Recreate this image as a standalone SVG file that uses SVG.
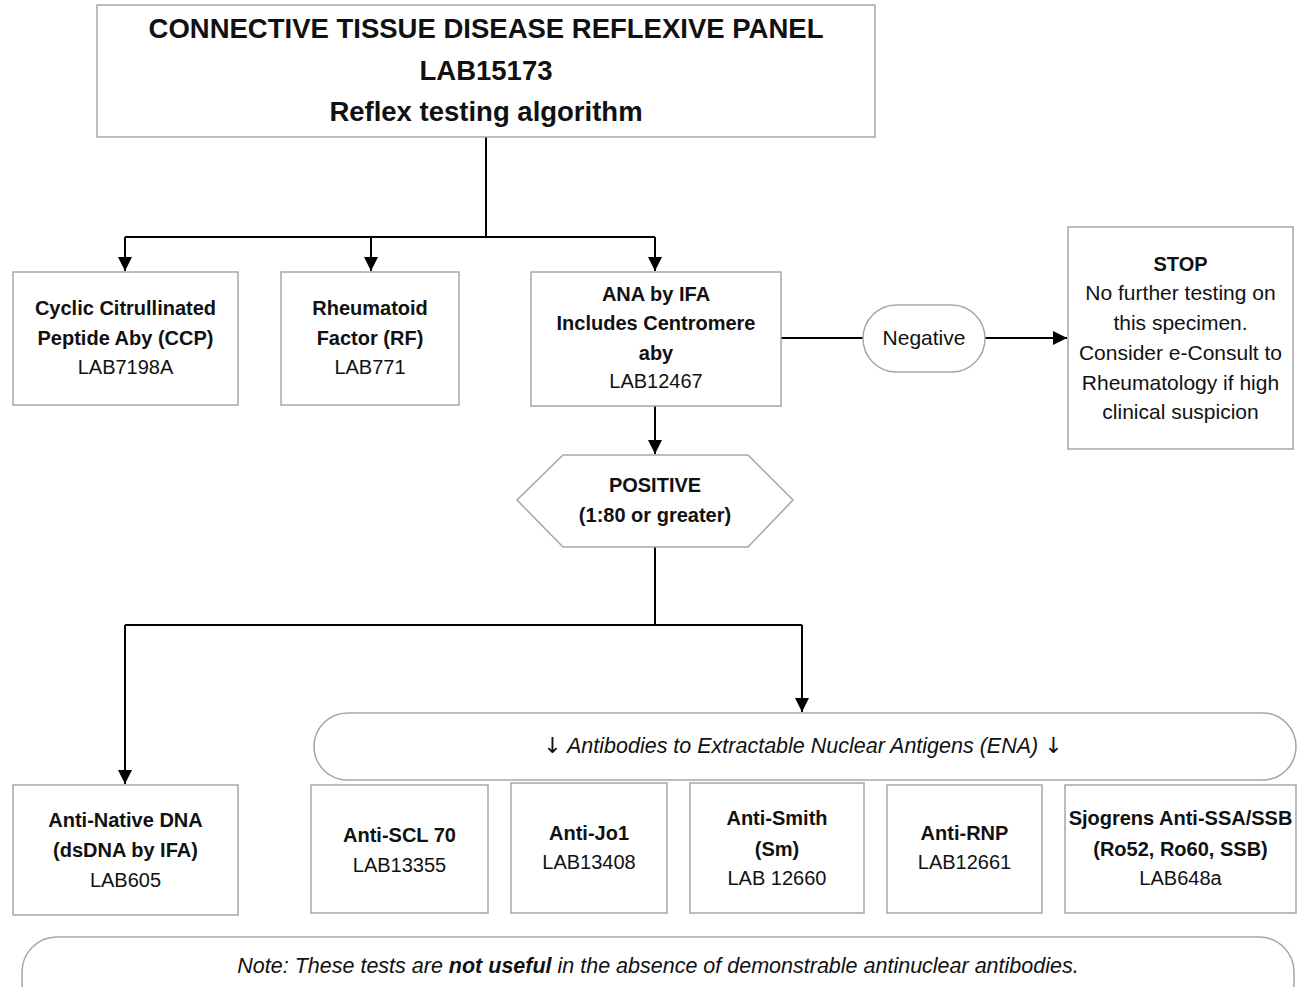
<svg xmlns="http://www.w3.org/2000/svg" width="1316" height="987" viewBox="0 0 1316 987">
<style>
.box{fill:#fff;stroke:#a6a6a6;stroke-width:1.5}
.con{fill:none;stroke:#000;stroke-width:2}
text{font-family:"Liberation Sans",Arial,sans-serif;fill:#111;text-anchor:middle}
.t{font-size:27.5px;font-weight:bold}
.b{font-size:20px;font-weight:bold}
.r{font-size:20px}
.s{font-size:21px}
.i{font-size:21.5px;font-style:italic}
.ar{font-family:"DejaVu Sans",sans-serif;font-style:normal;font-size:22px;fill:#111}
</style>
<defs>
<marker id="arr" markerUnits="userSpaceOnUse" markerWidth="14" markerHeight="14" refX="14" refY="7" orient="auto">
<path d="M0,0 L14,7 L0,14 z" fill="#000"/>
</marker>
</defs>
<rect width="1316" height="987" fill="#fff"/>
<g id="connectors">
<path class="con" d="M486,137 V237"/>
<path class="con" d="M125,237 H655"/>
<path class="con" d="M125,237 V271" marker-end="url(#arr)"/>
<path class="con" d="M371,237 V271" marker-end="url(#arr)"/>
<path class="con" d="M655,237 V271" marker-end="url(#arr)"/>
<path class="con" d="M781,338 H863"/>
<path class="con" d="M985,338 H1067" marker-end="url(#arr)"/>
<path class="con" d="M655,406 V454" marker-end="url(#arr)"/>
<path class="con" d="M655,547 V625"/>
<path class="con" d="M125,625 H802"/>
<path class="con" d="M125,625 V784" marker-end="url(#arr)"/>
<path class="con" d="M802,625 V712" marker-end="url(#arr)"/>
</g>
<g id="title">
<rect class="box" x="97" y="5" width="778" height="132"/>
<text class="t" x="486" y="38">CONNECTIVE TISSUE DISEASE REFLEXIVE PANEL</text>
<text class="t" x="486" y="80">LAB15173</text>
<text class="t" x="486" y="121">Reflex testing algorithm</text>
</g>
<g id="ccp">
<rect class="box" x="13" y="272" width="225" height="133"/>
<text class="b" x="125.5" y="315">Cyclic Citrullinated</text>
<text class="b" x="125.5" y="345">Peptide Aby (CCP)</text>
<text class="r" x="125.5" y="374">LAB7198A</text>
</g>
<g id="rf">
<rect class="box" x="281" y="272" width="178" height="133"/>
<text class="b" x="370" y="315">Rheumatoid</text>
<text class="b" x="370" y="345">Factor (RF)</text>
<text class="r" x="370" y="374">LAB771</text>
</g>
<g id="ana">
<rect class="box" x="531" y="272" width="250" height="134"/>
<text class="b" x="656" y="301">ANA by IFA</text>
<text class="b" x="656" y="330">Includes Centromere</text>
<text class="b" x="656" y="360">aby</text>
<text class="r" x="656" y="388">LAB12467</text>
</g>
<g id="negative">
<rect class="box" x="863" y="305" width="122" height="67" rx="33.5"/>
<text class="s" x="924" y="345">Negative</text>
</g>
<g id="stop">
<rect class="box" x="1068" y="227" width="225" height="222"/>
<text class="b" x="1180.5" y="271">STOP</text>
<text class="s" x="1180.5" y="300">No further testing on</text>
<text class="s" x="1180.5" y="330">this specimen.</text>
<text class="s" x="1180.5" y="360">Consider e-Consult to</text>
<text class="s" x="1180.5" y="390">Rheumatology if high</text>
<text class="s" x="1180.5" y="419">clinical suspicion</text>
</g>
<g id="positive">
<polygon class="box" points="563,455 748,455 793,500 748,547 563,547 517,500"/>
<text class="b" x="655" y="492">POSITIVE</text>
<text class="b" x="655" y="522">(1:80 or greater)</text>
</g>
<g id="ena">
<rect class="box" x="314" y="713" width="982" height="67" rx="33.5"/>
<text class="i" x="803" y="753"><tspan class="ar">↓</tspan> Antibodies to Extractable Nuclear Antigens (ENA) <tspan class="ar">↓</tspan></text>
</g>
<g id="dsdna">
<rect class="box" x="13" y="785" width="225" height="130"/>
<text class="b" x="125.5" y="827">Anti-Native DNA</text>
<text class="b" x="125.5" y="857">(dsDNA by IFA)</text>
<text class="r" x="125.5" y="887">LAB605</text>
</g>
<g id="scl70">
<rect class="box" x="311" y="785" width="177" height="128"/>
<text class="b" x="399.5" y="842">Anti-SCL 70</text>
<text class="r" x="399.5" y="872">LAB13355</text>
</g>
<g id="jo1">
<rect class="box" x="511" y="783" width="156" height="130"/>
<text class="b" x="589" y="840">Anti-Jo1</text>
<text class="r" x="589" y="869">LAB13408</text>
</g>
<g id="smith">
<rect class="box" x="690" y="783" width="174" height="130"/>
<text class="b" x="777" y="825">Anti-Smith</text>
<text class="b" x="777" y="856">(Sm)</text>
<text class="r" x="777" y="885">LAB 12660</text>
</g>
<g id="rnp">
<rect class="box" x="887" y="785" width="155" height="128"/>
<text class="b" x="964.5" y="840">Anti-RNP</text>
<text class="r" x="964.5" y="869">LAB12661</text>
</g>
<g id="sjogrens">
<rect class="box" x="1065" y="785" width="231" height="128"/>
<text class="b" x="1180.5" y="825">Sjogrens Anti-SSA/SSB</text>
<text class="b" x="1180.5" y="856">(Ro52, Ro60, SSB)</text>
<text class="r" x="1180.5" y="885">LAB648a</text>
</g>
<g id="note">
<rect class="box" x="22" y="937" width="1272" height="80" rx="35"/>
<text class="i" x="658" y="973">Note: These tests are <tspan font-weight="bold">not useful</tspan> in the absence of demonstrable antinuclear antibodies.</text>
</g>
</svg>
